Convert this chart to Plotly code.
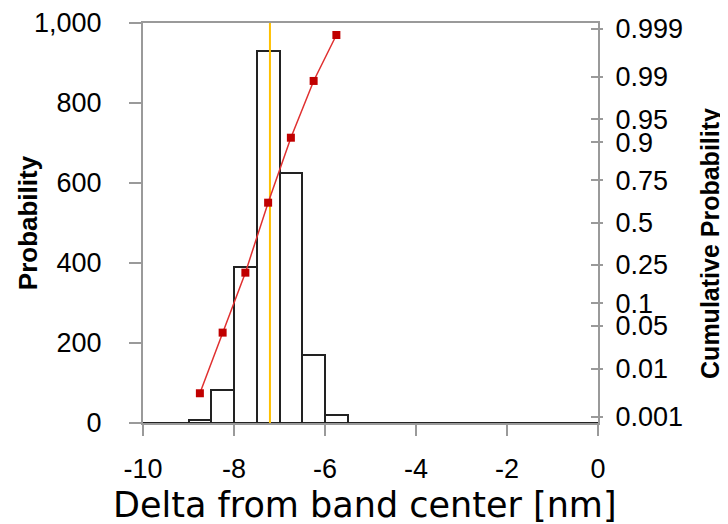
import math
import plotly.graph_objects as go

# ---- data ----
bin_centers = [-8.75, -8.25, -7.75, -7.25, -6.75, -6.25, -5.75]
bin_counts = [8, 82, 391, 930, 625, 170, 20]
bin_width = 0.5

cum_x = [-8.75, -8.25, -7.75, -7.25, -6.75, -6.25, -5.75]
cum_prob = [0.0033, 0.040, 0.213, 0.625, 0.912, 0.988, 0.9986]

mean_value = -7.21

x_ticks = [-10, -8, -6, -4, -2, 0]
y_ticks = [0, 200, 400, 600, 800, 1000]
prob_ticks = [0.001, 0.01, 0.05, 0.1, 0.25, 0.5, 0.75, 0.9, 0.95, 0.99, 0.999]
prob_labels = ["0.001", "0.01", "0.05", "0.1", "0.25", "0.5", "0.75", "0.9", "0.95", "0.99", "0.999"]

X_RANGE = [-10, 0]
Y_RANGE = [0, 1000]
Z_RANGE = [-3.19, 3.18]


def norm_ppf(p):
    lo, hi = -10.0, 10.0
    for _ in range(200):
        mid = 0.5 * (lo + hi)
        if 0.5 * (1 + math.erf(mid / math.sqrt(2))) < p:
            lo = mid
        else:
            hi = mid
    return 0.5 * (lo + hi)


prob_z = [norm_ppf(p) for p in prob_ticks]
cum_z = [norm_ppf(p) for p in cum_prob]

AXIS_GRAY = "#9a9a9a"
TICK_FONT = dict(family="Liberation Sans, Arial, sans-serif", size=27, color="black")

fig = go.Figure()

fig.add_trace(go.Bar(
    x=bin_centers, y=bin_counts, width=bin_width,
    marker=dict(color="white", line=dict(color="#222222", width=2)),
    showlegend=False, hoverinfo="skip",
))

# baseline of the histogram
fig.add_trace(go.Scatter(
    x=X_RANGE, y=[0, 0], mode="lines",
    line=dict(color="#222222", width=2),
    showlegend=False, hoverinfo="skip",
))

# mean line
fig.add_trace(go.Scatter(
    x=[mean_value, mean_value], y=Y_RANGE, mode="lines",
    line=dict(color="#FFC000", width=2),
    showlegend=False, hoverinfo="skip",
))

# cumulative probability
fig.add_trace(go.Scatter(
    x=cum_x, y=cum_z, yaxis="y2", mode="lines+markers",
    line=dict(color="#E03030", width=1.5),
    marker=dict(symbol="square", size=8, color="#C00000"),
    showlegend=False,
))

# helper trace for outer tick marks on right axis
fig.add_trace(go.Scatter(x=[None], y=[None], yaxis="y3", showlegend=False, hoverinfo="skip"))

fig.update_layout(
    width=720, height=516,
    margin=dict(l=135, r=130, t=15, b=101, autoexpand=False),
    plot_bgcolor="white", paper_bgcolor="white",
    bargap=0,
    xaxis=dict(
        range=X_RANGE, tickvals=x_ticks, ticktext=[str(v) for v in x_ticks],
        showgrid=False, zeroline=False, automargin=False,
        showline=True, linecolor=AXIS_GRAY, linewidth=2, mirror=True,
        ticks="outside", ticklen=11, tickwidth=2, tickcolor=AXIS_GRAY,
        tickfont=TICK_FONT, ticklabelstandoff=10,
    ),
    yaxis=dict(
        range=Y_RANGE, tickvals=y_ticks, tickformat=",d",
        showgrid=False, zeroline=False, automargin=False,
        showline=True, linecolor=AXIS_GRAY, linewidth=2,
        ticks="outside", ticklen=12, tickwidth=2, tickcolor=AXIS_GRAY,
        tickfont=TICK_FONT, ticklabelstandoff=22,
    ),
    yaxis2=dict(
        overlaying="y", side="right", range=Z_RANGE,
        tickvals=prob_z, ticktext=prob_labels,
        showgrid=False, zeroline=False, automargin=False,
        showline=True, linecolor=AXIS_GRAY, linewidth=2,
        ticks="inside", ticklen=7, tickwidth=2, tickcolor=AXIS_GRAY,
        tickfont=TICK_FONT, ticklabelstandoff=10,
    ),
    yaxis3=dict(
        overlaying="y", side="right", range=Z_RANGE,
        tickvals=prob_z, showticklabels=False, automargin=False,
        showgrid=False, zeroline=False, showline=False,
        ticks="outside", ticklen=4, tickwidth=2, tickcolor=AXIS_GRAY,
    ),
    annotations=[
        dict(text="<b>Probability</b>", xref="paper", yref="paper",
             x=-0.2536, y=0.501, xanchor="center", yanchor="middle",
             textangle=-90, showarrow=False,
             font=dict(family="Liberation Sans, Arial, sans-serif", size=26, color="black")),
        dict(text="<b>Cumulative Probability</b>", xref="paper", yref="paper",
             x=1.246, y=0.45, xanchor="center", yanchor="middle",
             textangle=-90, showarrow=False,
             font=dict(family="Liberation Sans, Arial, sans-serif", size=25, color="black")),
        dict(text="Delta from band center [nm]", xref="paper", yref="paper",
             x=0.4885, y=-0.204, xanchor="center", yanchor="middle",
             showarrow=False,
             font=dict(family="DejaVu Sans, Verdana, sans-serif", size=35, color="black")),
    ],
)

fig.write_html("out.html")
